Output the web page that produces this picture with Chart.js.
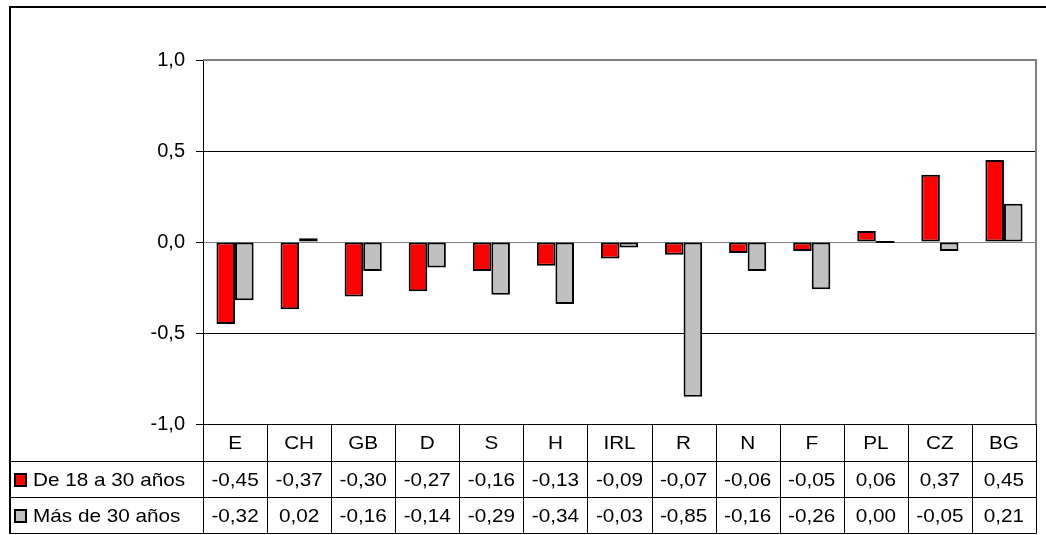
<!DOCTYPE html>
<html><head><meta charset="utf-8">
<script src="https://cdn.jsdelivr.net/npm/chart.js@4/dist/chart.umd.min.js"></script>
<style>html,body{margin:0;padding:0;background:#fff}#wrap{width:1046px;height:535px;position:relative}canvas{display:block}</style>
</head><body><div id="wrap"><canvas id="c" width="1046" height="535"></canvas></div>
<script>
const categories = ['E','CH','GB','D','S','H','IRL','R','N','F','PL','CZ','BG'];
const seriesNames = ['De 18 a 30 años','Más de 30 años'];
const young = [-0.45,-0.37,-0.30,-0.27,-0.16,-0.13,-0.09,-0.07,-0.06,-0.05,0.06,0.37,0.45];
const older = [-0.32,0.02,-0.16,-0.14,-0.29,-0.34,-0.03,-0.85,-0.16,-0.26,0.00,-0.05,0.21];
const yTicks = [-1,-0.5,0,0.5,1];
const seriesColors = ['#FF0000','#C0C0C0'];

const FONT = '"Liberation Sans", Arial, sans-serif';
const fmt1 = v => v.toFixed(1).replace('.', ',');
const fmt2 = v => (Math.abs(v) < 0.005 ? 0 : v).toFixed(2).replace('.', ',');

function stretchedText(ctx, text, x, y, align) {
  const sx = 1.12;
  ctx.save();
  ctx.translate(x, y);
  ctx.scale(sx, 1);
  ctx.textAlign = align;
  ctx.textBaseline = 'alphabetic';
  ctx.fillText(text, 0, 0);
  ctx.restore();
}

const tablePlugin = {
  id: 'dataTable',
  afterDraw(chart) {
    const ctx = chart.ctx;
    const xs = chart.scales.x;
    const ca = chart.chartArea;
    const n = categories.length;
    const cw = (xs.right - xs.left) / n;
    const rows = [ca.bottom, ca.bottom + 37, ca.bottom + 73, ca.bottom + 109];
    const leftEdge = 9;
    ctx.save();
    // outer frame
    ctx.strokeStyle = '#000';
    ctx.lineWidth = 2;
    ctx.beginPath();
    ctx.moveTo(10, 7); ctx.lineTo(1046, 7);
    ctx.moveTo(10, 6); ctx.lineTo(10, rows[3] + 1);
    ctx.stroke();
    // plot area gray border (top, right)
    ctx.strokeStyle = '#808080';
    ctx.beginPath();
    ctx.moveTo(ca.left, ca.top); ctx.lineTo(ca.right, ca.top);
    ctx.moveTo(ca.right, ca.top - 1); ctx.lineTo(ca.right, ca.bottom);
    ctx.stroke();
    // table lines
    ctx.strokeStyle = '#000';
    ctx.lineWidth = 1;
    ctx.beginPath();
    ctx.moveTo(ca.left, rows[0] + 0.5); ctx.lineTo(ca.right + 0.5, rows[0] + 0.5);
    for (let r = 1; r < 4; r++) {
      ctx.moveTo(leftEdge, rows[r] + 0.5); ctx.lineTo(ca.right + 0.5, rows[r] + 0.5);
    }
    for (let i = 0; i <= n; i++) {
      const bx = Math.round(xs.left + i * cw) + 0.5;
      ctx.moveTo(bx, i === 0 ? ca.bottom : rows[0]); ctx.lineTo(bx, rows[3] + 0.5);
    }
    ctx.stroke();
    // zero-height bars: Excel still shows their outline as a flat line
    chart.data.datasets.forEach((ds, k) => {
      const meta = chart.getDatasetMeta(k);
      ds.data.forEach((v, i) => {
        if (v === 0) {
          const el = meta.data[i];
          ctx.strokeStyle = '#000';
          ctx.lineWidth = 2;
          ctx.beginPath();
          ctx.moveTo(el.x - el.width / 2, el.y);
          ctx.lineTo(el.x + el.width / 2, el.y);
          ctx.stroke();
        }
      });
    });
    // text
    ctx.fillStyle = '#000';
    ctx.font = '18.5px ' + FONT;
    const base = [rows[0] + 25, rows[1] + 25, rows[2] + 25];
    categories.forEach((c, i) => {
      const cx = xs.getPixelForValue(i);
      stretchedText(ctx, c, cx, base[0], 'center');
      stretchedText(ctx, fmt2(young[i]), cx, base[1], 'center');
      stretchedText(ctx, fmt2(older[i]), cx, base[2], 'center');
    });
    // legend keys
    [young, older].forEach((s, k) => {
      const y0 = rows[k + 1] + 13;
      ctx.fillStyle = seriesColors[k];
      ctx.fillRect(15, y0, 11, 12);
      ctx.strokeStyle = '#000';
      ctx.lineWidth = 2;
      ctx.strokeRect(15, y0, 11, 12);
      ctx.fillStyle = '#000';
      stretchedText(ctx, seriesNames[k], 33, base[k + 1], 'left');
    });
    ctx.restore();
  }
};

new Chart(document.getElementById('c'), {
  type: 'bar',
  data: {
    labels: categories,
    datasets: [
      { label: seriesNames[0], data: young, backgroundColor: seriesColors[0], borderColor: '#000', borderWidth: 2, borderSkipped: false },
      { label: seriesNames[1], data: older, backgroundColor: seriesColors[1], borderColor: '#000', borderWidth: 2, borderSkipped: false }
    ]
  },
  options: {
    responsive: false,
    animation: false,
    devicePixelRatio: 1,
    layout: { padding: { left: 0, right: 10, top: 60, bottom: 111 } },
    datasets: { bar: { categoryPercentage: 0.58, barPercentage: 1 } },
    plugins: { legend: { display: false }, tooltip: { enabled: false }, title: { display: false } },
    scales: {
      x: { display: false, offset: true },
      y: {
        min: -1, max: 1,
        afterBuildTicks: s => { s.ticks = yTicks.map(v => ({ value: v })); },
        afterFit: s => { s.width = 203; },
        border: { color: '#000', width: 1 },
        grid: {
          color: c => (c.tick && (c.tick.value === 0 || c.tick.value === 1)) ? '#808080' : '#000',
          tickColor: '#000',
          tickLength: 7,
          lineWidth: 1
        },
        ticks: {
          color: '#000',
          padding: 11,
          font: { family: FONT, size: 20 },
          callback: v => fmt1(v)
        }
      }
    }
  },
  plugins: [tablePlugin]
});
</script>
</body></html>
